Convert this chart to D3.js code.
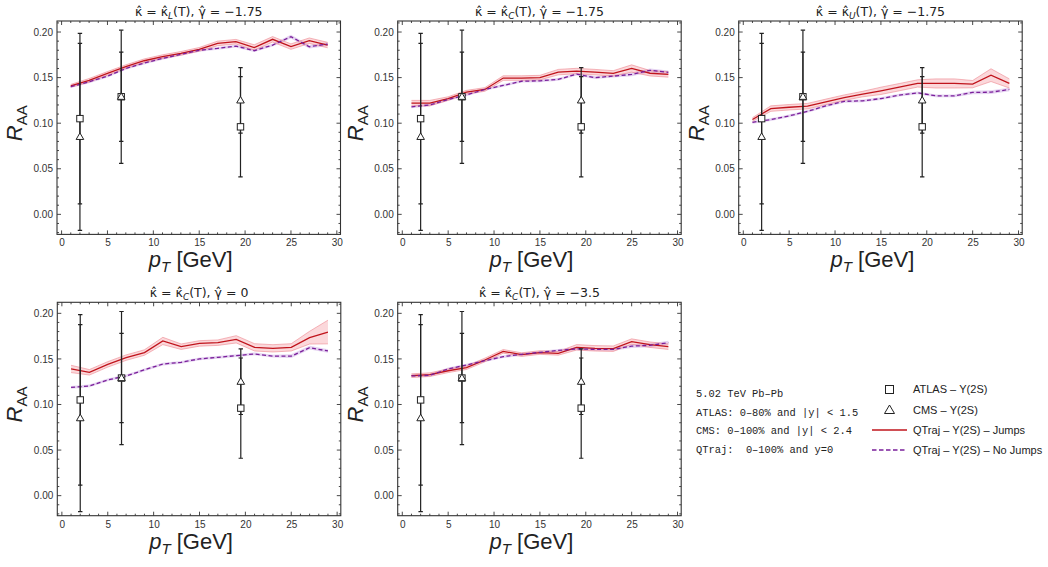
<!DOCTYPE html>
<html>
<head>
<meta charset="utf-8">
<script src="https://cdn.jsdelivr.net/npm/d3@7"></script>
<style>
  body { margin: 0; background: #fff; }
  svg { display: block; font-family: 'Liberation Sans', Arial, sans-serif; }
</style>
</head>
<body>
<svg id="chart" width="1048" height="567"></svg>
<script>
const WIDTH = 1048
const HEIGHT = 567
const FRAME_W = 283.5
const FRAME_H = 213.4

// theory grid (pT in GeV)
const pT = [1, 3, 5, 7, 9, 11, 13, 15, 17, 19, 21, 23, 25, 27, 29]

// panel titles: kappa subscript, gamma value
const kappaSubs = ['L', 'C', 'U', 'C', 'C']
const gammaValues = ['\u22121.75', '\u22121.75', '\u22121.75', '0', '\u22123.5']

// QTraj with jumps (central value and band half-width)
const jumps1 = [0.141, 0.147, 0.1546, 0.162, 0.1685, 0.173, 0.1766, 0.181, 0.1875, 0.1894, 0.183, 0.192, 0.184, 0.1905, 0.1857]
const jumps2 = [0.122, 0.122, 0.127, 0.134, 0.137, 0.1495, 0.1495, 0.150, 0.156, 0.1572, 0.156, 0.1546, 0.160, 0.1548, 0.1535]
const jumps3 = [0.104, 0.116, 0.1175, 0.1187, 0.1234, 0.128, 0.1319, 0.1355, 0.1395, 0.1436, 0.1436, 0.1436, 0.1428, 0.1527, 0.1436]
const jumps4 = [0.139, 0.1353, 0.144, 0.1514, 0.157, 0.1697, 0.1634, 0.167, 0.1678, 0.1715, 0.1627, 0.1616, 0.1627, 0.1733, 0.1795]
const jumps5 = [0.1316, 0.1327, 0.137, 0.1404, 0.1488, 0.1583, 0.1547, 0.157, 0.1561, 0.1627, 0.1616, 0.1612, 0.169, 0.1656, 0.1634]

const jumpsErr1 = [0.0015, 0.002, 0.002, 0.002, 0.002, 0.002, 0.002, 0.002, 0.0025, 0.0025, 0.003, 0.003, 0.003, 0.003, 0.003]
const jumpsErr2 = [0.003, 0.003, 0.002, 0.002, 0.002, 0.0025, 0.0025, 0.0025, 0.003, 0.003, 0.003, 0.003, 0.004, 0.003, 0.003]
const jumpsErr3 = [0.002, 0.003, 0.003, 0.003, 0.003, 0.003, 0.003, 0.004, 0.004, 0.004, 0.005, 0.005, 0.004, 0.007, 0.005]
const jumpsErr4 = [0.004, 0.003, 0.003, 0.003, 0.003, 0.004, 0.003, 0.003, 0.003, 0.004, 0.004, 0.004, 0.004, 0.007, 0.013]
const jumpsErr5 = [0.002, 0.002, 0.002, 0.002, 0.002, 0.002, 0.002, 0.002, 0.002, 0.003, 0.003, 0.003, 0.003, 0.003, 0.003]

// QTraj without jumps
const noJumps1 = [0.140, 0.1454, 0.1516, 0.160, 0.166, 0.171, 0.1755, 0.180, 0.182, 0.1846, 0.1795, 0.1857, 0.1949, 0.1839, 0.1868]
const noJumps2 = [0.118, 0.120, 0.126, 0.131, 0.137, 0.1414, 0.146, 0.1465, 0.148, 0.1538, 0.150, 0.1516, 0.1535, 0.158, 0.1557]
const noJumps3 = [0.101, 0.104, 0.108, 0.113, 0.119, 0.124, 0.1245, 0.127, 0.1308, 0.1333, 0.130, 0.130, 0.1337, 0.134, 0.137]
const noJumps4 = [0.1188, 0.1203, 0.127, 0.1313, 0.138, 0.1444, 0.1463, 0.150, 0.1517, 0.1536, 0.1554, 0.153, 0.153, 0.1623, 0.1587]
const noJumps5 = [0.1313, 0.132, 0.139, 0.1433, 0.148, 0.1525, 0.155, 0.1572, 0.1594, 0.161, 0.1605, 0.1605, 0.164, 0.1649, 0.1678]
const noJumpsErr = [0.0015, 0.0015, 0.0015, 0.0015, 0.0015, 0.0015, 0.0015, 0.0015, 0.0015, 0.0015, 0.0015, 0.0015, 0.002, 0.002, 0.002]

// experimental points
const atlasX = [2, 6.5, 19.5]
const atlasY = [0.105, 0.129, 0.096]
const atlasErr = [0.0935, 0.049, 0.055]
const cmsX = [2, 6.5, 19.5]
const cmsY = [0.085, 0.129, 0.125]
const cmsErr = [0.1025, 0.073, 0.036]

// tick values
const xTicks = [0, 5, 10, 15, 20, 25, 30]
const yTicks = [0.00, 0.05, 0.10, 0.15, 0.20]

const legendNotes = ['5.02 TeV Pb\u2013Pb', 'ATLAS: 0\u201380% and |y| < 1.5', 'CMS: 0\u2013100% and |y| < 2.4', 'QTraj:  0\u2013100% and y=0']
const legendLabels = ['ATLAS \u2013 \u03a5(2S)', 'CMS \u2013 \u03a5(2S)', 'QTraj \u2013 \u03a5(2S) \u2013 Jumps', 'QTraj \u2013 \u03a5(2S) \u2013 No Jumps']

const jumpsSeries = [jumps1, jumps2, jumps3, jumps4, jumps5]
const jumpsErrSeries = [jumpsErr1, jumpsErr2, jumpsErr3, jumpsErr4, jumpsErr5]
const noJumpsSeries = [noJumps1, noJumps2, noJumps3, noJumps4, noJumps5]

// frame corners of each panel
const panelPos = [
  { x: 57, y: 21 },
  { x: 397.7, y: 21 },
  { x: 738.7, y: 21 },
  { x: 57.3, y: 302.3 },
  { x: 397.7, y: 302.3 },
]

const RED = '#c0141c'
const RED_BAND = 'rgba(240, 100, 110, 0.25)'
const RED_EDGE = 'rgba(235, 120, 130, 0.65)'
const PURPLE = '#7a1f9a'
const PURPLE_BAND = 'rgba(170, 110, 210, 0.3)'
const INK = '#222'
const MONO = "'Liberation Mono', 'DejaVu Sans Mono', monospace"

const svg = d3.select('#chart')

function drawPanel(i) {
  const pos = panelPos[i]
  const g = svg.append('g').attr('transform', `translate(${pos.x},${pos.y})`)

  const x = d3.scaleLinear().domain([-0.5, 30.4]).range([0, FRAME_W])
  const y = d3.scaleLinear().domain([-0.022, 0.2121]).range([FRAME_H, 0])

  g.append('defs').append('clipPath').attr('id', `clip${i}`)
    .append('rect').attr('width', FRAME_W).attr('height', FRAME_H)

  const plot = g.append('g').attr('clip-path', `url(#clip${i})`)

  const rows = pT.map((p, k) => ({
    p,
    j: jumpsSeries[i][k],
    je: jumpsErrSeries[i][k],
    n: noJumpsSeries[i][k],
    ne: noJumpsErr[k],
  }))

  // bands
  const nArea = d3.area().x((d) => x(d.p)).y0((d) => y(d.n - d.ne)).y1((d) => y(d.n + d.ne))
  plot.append('path').datum(rows).attr('d', nArea).attr('fill', PURPLE_BAND)

  const jArea = d3.area().x((d) => x(d.p)).y0((d) => y(d.j - d.je)).y1((d) => y(d.j + d.je))
  plot.append('path').datum(rows).attr('d', jArea).attr('fill', RED_BAND)
  ;[-1, 1].forEach((s) => {
    plot.append('path').datum(rows)
      .attr('d', d3.line().x((d) => x(d.p)).y((d) => y(d.j + s * d.je)))
      .attr('fill', 'none').attr('stroke', RED_EDGE).attr('stroke-width', 0.8)
  })

  plot.append('path').datum(rows)
    .attr('d', d3.line().x((d) => x(d.p)).y((d) => y(d.j)))
    .attr('fill', 'none').attr('stroke', RED).attr('stroke-width', 1.3)

  plot.append('path').datum(rows)
    .attr('d', d3.line().x((d) => x(d.p)).y((d) => y(d.n)))
    .attr('fill', 'none').attr('stroke', PURPLE).attr('stroke-width', 1.3)
    .attr('stroke-dasharray', '4,2.5')

  // error bars
  const points = []
  atlasX.forEach((v, k) => points.push({ x: v, y: atlasY[k], e: atlasErr[k], kind: 'atlas' }))
  cmsX.forEach((v, k) => points.push({ x: v, y: cmsY[k], e: cmsErr[k], kind: 'cms' }))

  const bars = plot.append('g').attr('stroke', INK).attr('stroke-width', 1.2)
  points.forEach((d) => {
    const cx = x(d.x)
    bars.append('line').attr('x1', cx).attr('x2', cx).attr('y1', y(d.y - d.e)).attr('y2', y(d.y + d.e))
    ;[d.y - d.e, d.y + d.e].forEach((v) => {
      bars.append('line').attr('x1', cx - 2.2).attr('x2', cx + 2.2).attr('y1', y(v)).attr('y2', y(v))
    })
  })

  // markers
  points.filter((d) => d.kind === 'atlas').forEach((d) => {
    plot.append('rect')
      .attr('x', x(d.x) - 3.2).attr('y', y(d.y) - 3.2).attr('width', 6.4).attr('height', 6.4)
      .attr('fill', '#fff').attr('stroke', INK).attr('stroke-width', 1)
  })
  points.filter((d) => d.kind === 'cms').forEach((d) => {
    const cx = x(d.x)
    const cy = y(d.y)
    plot.append('path')
      .attr('d', `M${cx},${cy - 4}L${cx + 3.8},${cy + 2.6}L${cx - 3.8},${cy + 2.6}Z`)
      .attr('fill', '#fff').attr('stroke', INK).attr('stroke-width', 1)
  })

  // frame
  g.append('rect').attr('width', FRAME_W).attr('height', FRAME_H)
    .attr('fill', 'none').attr('stroke', '#333').attr('stroke-width', 1.1)

  const ticks = g.append('g').attr('stroke', '#333').attr('stroke-width', 0.9)
  d3.range(-0.02, 0.2101, 0.01).forEach((v) => {
    const major = Math.abs(Math.round(v * 100) % 5) === 0
    const len = major ? 4 : 2
    const yy = y(v)
    ticks.append('line').attr('x1', 0).attr('x2', len).attr('y1', yy).attr('y2', yy)
    ticks.append('line').attr('x1', FRAME_W).attr('x2', FRAME_W - len).attr('y1', yy).attr('y2', yy)
  })
  d3.range(0, 31, 1).forEach((v) => {
    const major = v % 5 === 0
    const len = major ? 4 : 2
    const xx = x(v)
    ticks.append('line').attr('x1', xx).attr('x2', xx).attr('y1', FRAME_H).attr('y2', FRAME_H - len)
    ticks.append('line').attr('x1', xx).attr('x2', xx).attr('y1', 0).attr('y2', len)
  })

  const yAxis = d3.axisLeft(y).tickValues(yTicks).tickFormat(d3.format('.2f')).tickSize(0).tickPadding(4)
  const ya = g.append('g').call(yAxis)
  ya.select('.domain').remove()
  ya.attr('font-family', null).attr('font-size', null)
  ya.selectAll('text').style('font-size', '10px').attr('fill', '#333')

  const xAxis = d3.axisBottom(x).tickValues(xTicks).tickSize(0).tickPadding(5)
  const xa = g.append('g').attr('transform', `translate(0,${FRAME_H})`).call(xAxis)
  xa.select('.domain').remove()
  xa.attr('font-family', null).attr('font-size', null)
  xa.selectAll('text').style('font-size', '10px').attr('fill', '#333')

  // title
  const title = g.append('text').attr('x', FRAME_W / 2).attr('y', -5)
    .attr('text-anchor', 'middle').style('font-size', '12.5px').attr('fill', INK)
    .style('font-family', "'DejaVu Sans', sans-serif")
  title.append('tspan').text('\u03ba\u0302 = \u03ba\u0302')
  title.append('tspan').attr('font-style', 'italic').style('font-size', '9px').attr('dy', 2.5).text(kappaSubs[i])
  title.append('tspan').attr('dy', -2.5).text('(T), \u03b3\u0302 = ' + gammaValues[i])

  // axis labels
  const xl = g.append('text').attr('x', FRAME_W / 2 - 8).attr('y', FRAME_H + 33)
    .attr('text-anchor', 'middle').style('font-size', '22px').attr('fill', INK)
  xl.append('tspan').attr('font-style', 'italic').text('p')
  xl.append('tspan').attr('font-style', 'italic').style('font-size', '15px').attr('dy', 5).text('T')
  xl.append('tspan').attr('dy', -5).text(' [GeV]')

  const yl = g.append('text')
    .attr('transform', `translate(-35,${y(0.1)}) rotate(-90)`)
    .attr('text-anchor', 'middle').style('font-size', '22px').attr('fill', INK)
  yl.append('tspan').attr('font-style', 'italic').text('R')
  yl.append('tspan').style('font-size', '15px').attr('dy', 5).text('AA')
}

for (let i = 0; i < 5; i++) drawPanel(i)

// legend: notes
const notes = svg.append('g')
legendNotes.forEach((t, k) => {
  notes.append('text').attr('x', 696).attr('y', 397 + k * 18.7)
    .style('font-family', MONO).style('font-size', '10.4px').style('white-space', 'pre')
    .attr('fill', INK).text(t)
})

// legend: symbols
const leg = svg.append('g')
const legY = [389.5, 410, 430, 450]
leg.append('rect').attr('x', 885.5).attr('y', legY[0] - 4).attr('width', 8).attr('height', 8)
  .attr('fill', '#fff').attr('stroke', INK).attr('stroke-width', 1)
leg.append('path').attr('d', `M889.5,${legY[1] - 5}L894.5,${legY[1] + 3.5}L884.5,${legY[1] + 3.5}Z`)
  .attr('fill', '#fff').attr('stroke', INK).attr('stroke-width', 1)
leg.append('line').attr('x1', 872).attr('x2', 907).attr('y1', legY[2]).attr('y2', legY[2])
  .attr('stroke', RED).attr('stroke-width', 1.3)
leg.append('line').attr('x1', 872).attr('x2', 907).attr('y1', legY[3]).attr('y2', legY[3])
  .attr('stroke', PURPLE).attr('stroke-width', 1.3).attr('stroke-dasharray', '4.5,2.5')
legendLabels.forEach((t, k) => {
  leg.append('text').attr('x', 913).attr('y', legY[k] + 3.8)
    .style('font-size', '11px').attr('fill', INK).text(t)
})
</script>
</body>
</html>
